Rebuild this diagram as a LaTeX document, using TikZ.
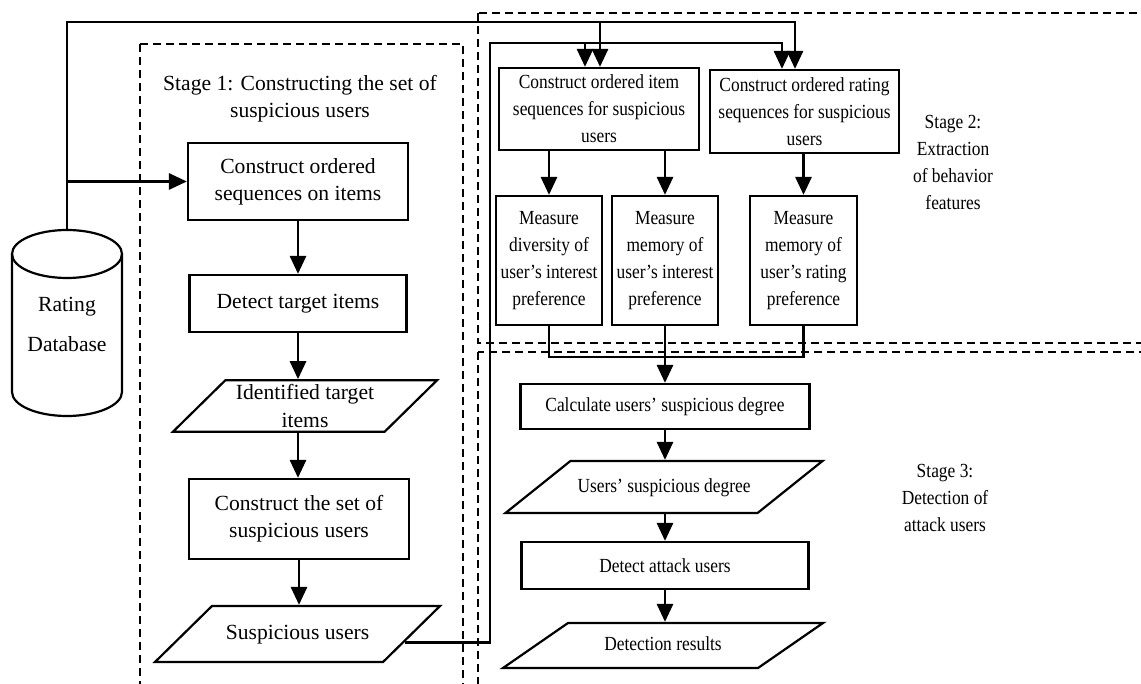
\documentclass[tikz,border=0pt]{standalone}
\usepackage{fontspec}
\setmainfont{Liberation Serif}
\newfontfamily\narrowserif[FakeStretch=0.87]{Liberation Serif}
\usetikzlibrary{arrows.meta,shapes.geometric,calc}

\tikzset{
  stageone/.style={font=\fontsize{10.8}{13.5}\selectfont},
  stagetwo/.style={font=\narrowserif\fontsize{10}{13.5}\selectfont},
  box/.style={draw, line width=1.1pt, align=center, inner sep=1pt},
  iobox/.style={box, trapezium, trapezium stretches body},
  frame/.style={line width=1pt, dash pattern=on 4pt off 2.5pt},
  link/.style={line width=1.4pt},
  arr/.style={link, -{Triangle[length=9pt,width=8pt]}},
}

\begin{document}
\begin{tikzpicture}[x=0.5pt, y=-0.5pt]
      \useasboundingbox (0,0) rectangle (1141,684);
      \clip (0,0) rectangle (1141,684);
      % stage frames
      \draw[frame] (140,44) rectangle (463,700);
      \draw[frame] (478,13) rectangle (1160,343);
      \draw[frame] (478,352) rectangle (1160,700);
      % rating database
      \coordinate (dbapex) at (67,230);
      \draw[line width=1.1pt] (67,254) ellipse [x radius=27.5pt, y radius=12pt];
      \draw[line width=1.1pt] (12,254) -- (12,392) arc [start angle=180, end angle=360, x radius=27.5pt, y radius=12pt] -- (122,254);
      \node[align=center, font=\fontsize{10.8}{20}\selectfont] (db) at (67,324) {Rating\\Database};
      % stage 1
      \node[stageone, align=center] (lab1) at (300,99) {Stage 1: Constructing the set of\\suspicious users};
      \node[box, stageone, minimum width=110pt, minimum height=38.5pt] (seqitems) at (298,181.5) {Construct ordered\\sequences on items};
      \node[box, stageone, minimum width=108.5pt, minimum height=28.5pt] (target) at (298,303.5) {Detect target items};
      \node[iobox, stageone, trapezium left angle=44.5, trapezium right angle=135.5,
        minimum width=132pt, inner ysep=2.25pt] (targetout) at (305,406) {Identified target\\items};
      \node[box, stageone, minimum width=110pt, minimum height=40pt] (susset) at (299,519) {Construct the set of\\suspicious users};
      \node[iobox, stageone, trapezium left angle=44.5, trapezium right angle=135.5,
        minimum width=142.5pt, text height=7.5pt, text depth=2.5pt, inner ysep=9pt] (susout) at (297.5,634) {Suspicious users};
      % stage 2
      \node[stagetwo, align=center] (lab2) at (953,162) {Stage 2:\\Extraction\\of behavior\\features};
      \node[box, stagetwo, minimum width=100pt, minimum height=41pt] (itemseq) at (599,109) {Construct ordered item\\sequences for suspicious\\users};
      \node[box, stagetwo, minimum width=94.5pt, minimum height=41.5pt] (rateseq) at (804.5,111.5) {Construct ordered rating\\sequences for suspicious\\users};
      \node[box, stagetwo, minimum width=53pt, minimum height=64.5pt] (divint) at (549,260.5) {Measure\\diversity of\\user’s interest\\preference};
      \node[box, stagetwo, minimum width=53pt, minimum height=64.5pt] (memint) at (665,260.5) {Measure\\memory of\\user’s interest\\preference};
      \node[box, stagetwo, minimum width=53.5pt, minimum height=64.5pt] (memrate) at (803.5,260.5) {Measure\\memory of\\user’s rating\\preference};
      % stage 3
      \node[stagetwo, align=center] (lab3) at (945,498) {Stage 3:\\Detection of\\attack users};
      \node[box, stagetwo, minimum width=144.5pt, minimum height=22.5pt] (calc) at (665,406.5) {Calculate users’ suspicious degree};
      \node[iobox, stagetwo, trapezium left angle=38.7, trapezium right angle=141.3,
        minimum width=158.5pt, text height=7pt, text depth=2pt, inner ysep=8.5pt] (degree) at (664,487) {Users’ suspicious degree};
      \node[box, stagetwo, minimum width=143.5pt, minimum height=23.5pt] (detect) at (665,565.5) {Detect attack users};
      \node[iobox, stagetwo, trapezium left angle=34.7, trapezium right angle=145.3,
        minimum width=160pt, text height=7pt, text depth=2pt, inner ysep=6.75pt] (results) at (663,645.5) {Detection results};
      % database feeds
      \coordinate (dbitem) at (600,22);
      \coordinate (dbrate) at (795,22);
      \draw[arr] (dbapex) |- (dbrate) -- (dbrate |- rateseq.north);
      \draw[arr] (dbitem) -- (dbitem |- itemseq.north);
      \draw[arr] (dbapex |- seqitems.west) -- (seqitems.west);
      % stage 1 flow
      \draw[arr] (seqitems.south) -- (target.north);
      \draw[arr] (target.south) -- (target.south |- targetout.north);
      \draw[arr] (target.south |- targetout.south) -- (target.south |- susset.north);
      \draw[arr] (susset.south) -- (susset.south |- susout.north);
      % suspicious users feed
      \coordinate (susedge) at ($(susout.east)!0.29!(susout.bottom right corner)$);
      \coordinate (susup) at (490,43);
      \coordinate (susitem) at (585,43);
      \coordinate (susrate) at (782,43);
      \draw[arr] (susedge) -| (susup) -- (susrate) -- (susrate |- rateseq.north);
      \draw[arr] (susitem) -- (susitem |- itemseq.north);
      % stage 2 flow
      \draw[arr] (itemseq.south -| divint.north) -- (divint.north);
      \draw[arr] (itemseq.south -| memint.north) -- (memint.north);
      \draw[arr] (rateseq.south -| memrate.north) -- (memrate.north);
      \coordinate (merge) at (665,357);
      \draw[link] (divint.south) |- (merge) -| (memrate.south);
      \draw[arr] (memint.south) -- (calc.north);
      % stage 3 flow
      \draw[arr] (calc.south) -- (calc.south |- degree.north);
      \draw[arr] (calc.south |- degree.south) -- (detect.north);
      \draw[arr] (detect.south) -- (detect.south |- results.north);
    \end{tikzpicture}
\end{document}
